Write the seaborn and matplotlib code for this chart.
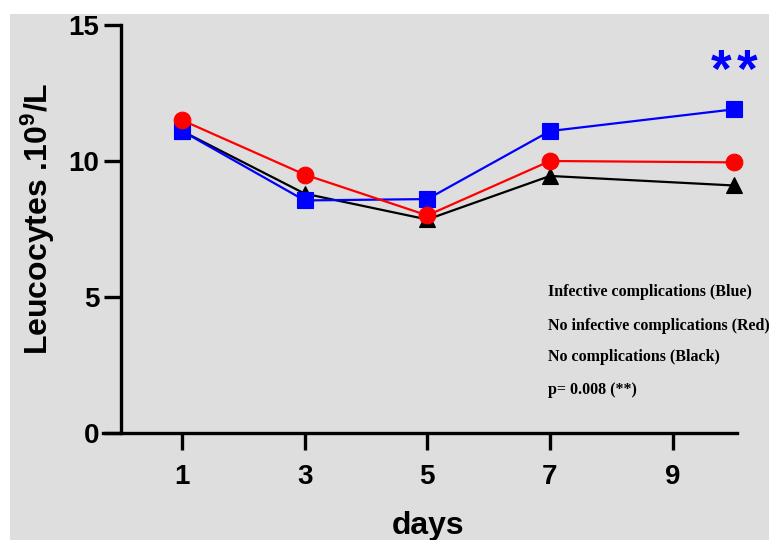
import matplotlib

matplotlib.use("Agg")

import matplotlib.pyplot as plt
import pandas as pd
import seaborn as sns
from matplotlib.patches import Rectangle


DAYS = [1, 3, 5, 7, 10]
INFECTIVE = [11.1, 8.55, 8.6, 11.1, 11.9]
NO_INFECTIVE = [11.5, 9.5, 8.0, 10.0, 9.95]
NO_COMPLICATIONS = [11.1, 8.8, 7.85, 9.45, 9.1]

GROUPS = ["No complications", "Infective complications", "No infective complications"]
GROUP_COLORS = {
    "No complications": "#000000",
    "Infective complications": "#0000ff",
    "No infective complications": "#ff0000",
}
GROUP_MARKERS = {
    "No complications": "^",
    "Infective complications": "s",
    "No infective complications": "o",
}

X_TICKS = [1, 3, 5, 7, 9]
Y_TICKS = [0, 5, 10, 15]

NOTES = [
    "Infective complications (Blue)",
    "No infective complications (Red)",
    "No complications (Black)",
    "p= 0.008 (**)",
]
NOTE_Y = [5.04, 3.79, 2.65, 1.43]


def build_frame() -> pd.DataFrame:
    series = {
        "No complications": NO_COMPLICATIONS,
        "Infective complications": INFECTIVE,
        "No infective complications": NO_INFECTIVE,
    }
    rows = []
    for group in GROUPS:
        for day, value in zip(DAYS, series[group]):
            rows.append({"day": day, "value": value, "group": group})
    return pd.DataFrame(rows)


def main() -> None:
    sns.set_style("ticks")
    plt.rcParams["font.family"] = ["Liberation Sans", "DejaVu Sans"]
    plt.rcParams["font.weight"] = "bold"
    plt.rcParams["text.color"] = "black"
    plt.rcParams["axes.labelcolor"] = "black"
    plt.rcParams["mathtext.fontset"] = "custom"
    plt.rcParams["mathtext.rm"] = "Liberation Sans:bold"
    plt.rcParams["mathtext.default"] = "rm"

    df = build_frame()

    fig = plt.figure(figsize=(7.69, 5.40), dpi=100, facecolor="white")
    fig.patches.append(
        Rectangle((10 / 769, 0), 1, 1 - 14 / 540, transform=fig.transFigure,
                  facecolor="#dedede", edgecolor="none", zorder=-10)
    )
    ax = fig.add_axes([103 / 769, 107 / 540, 634 / 769, 408 / 540])
    ax.set_facecolor("none")

    sns.lineplot(
        data=df, x="day", y="value", hue="group", style="group",
        hue_order=GROUPS, style_order=GROUPS,
        palette=GROUP_COLORS, markers=GROUP_MARKERS, dashes=False,
        markersize=12, linewidth=1.6, markeredgewidth=0.8,
        legend=False, ax=ax,
    )
    for line, group in zip(ax.lines, GROUPS):
        line.set_markeredgecolor(GROUP_COLORS[group])
        line.set_clip_on(False)

    ax.set_xlim(-0.29, 10.05)
    ax.set_ylim(0, 15)
    ax.set_xticks(X_TICKS)
    ax.set_yticks(Y_TICKS)

    for side in ["top", "right"]:
        ax.spines[side].set_visible(False)
    ax.spines["left"].set_position(("data", 0))
    for side in ["left", "bottom"]:
        ax.spines[side].set_linewidth(2.4)
        ax.spines[side].set_color("black")

    ax.tick_params(axis="both", width=2.4, length=12, labelsize=20, colors="black")
    ax.tick_params(axis="x", pad=10.5)
    ax.tick_params(axis="y", pad=3.5)

    ax.set_xlabel("days", fontsize=23, fontweight="bold", color="black")
    ax.xaxis.set_label_coords(0.513, -0.19)
    ax.set_ylabel(r"Leucocytes .10$^{9}$/L", fontsize=23, fontweight="bold", color="black")
    ax.yaxis.set_label_coords(-0.072, 0.525)

    for text, y in zip(NOTES, NOTE_Y):
        ax.text(6.97, y, text, fontsize=11.5, fontweight="bold", color="black",
                family=["Liberation Serif", "DejaVu Serif"], va="baseline", ha="left")

    # the two stars sit apart in the reference, so draw them one by one
    for x in [9.79, 10.21]:
        ax.text(x, 12.72, "*", fontsize=38, fontweight="bold", color="#0000ff",
                ha="center", va="baseline")

    fig.savefig("out.png", dpi=100, facecolor="white")
    plt.close(fig)


if __name__ == "__main__":
    main()
